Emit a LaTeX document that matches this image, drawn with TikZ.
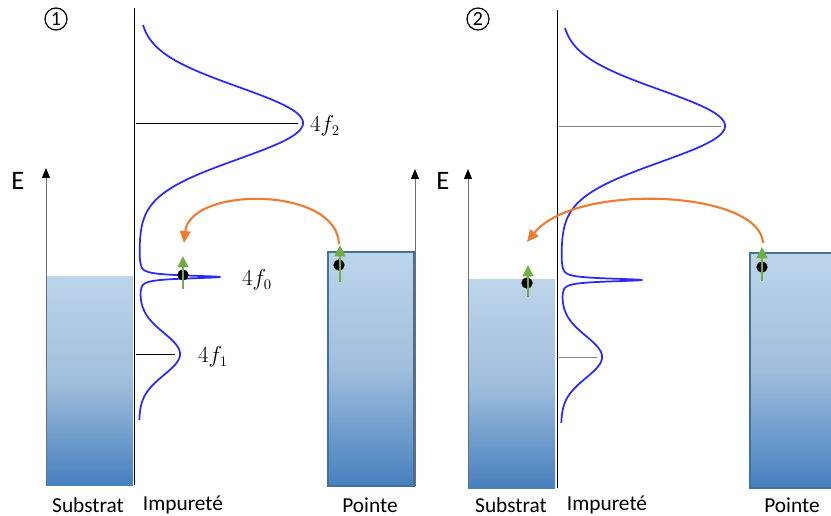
\documentclass[tikz,border=0pt]{standalone}
\usepackage{fontspec}
\setmainfont{Carlito}
\usetikzlibrary{arrows.meta}
\definecolor{dosblue}{RGB}{40,40,255}
\definecolor{orng}{RGB}{237,125,49}
\definecolor{grn}{RGB}{112,173,71}
\definecolor{bandtop}{RGB}{189,213,234}
\definecolor{bandmid}{RGB}{160,190,221}
\definecolor{bandbot}{RGB}{70,128,190}
\definecolor{tipborder}{RGB}{65,113,156}
\definecolor{axgrey}{RGB}{110,110,110}
\newcommand\myDOS{%
  \draw[dos] plot[domain=25:266.792, samples=160, smooth]
      ({139+164*exp(-0.5*((\x-123)/36)^2)+81*(1.8/(\x-277))^2/(1+(1.8/(\x-277))^2)}, \x)
    -- plot[domain=-80:80, samples=161, variable=\t]
      ({139+81*cos(\t)^2}, {277+1.8*tan(\t)})
    -- plot[domain=287.208:420, samples=100, smooth]
      ({139+41*exp(-0.5*((\x-354)/21)^2)+81*(1.8/(\x-277))^2/(1+(1.8/(\x-277))^2)}, \x);}
\begin{document}
\begin{tikzpicture}[x=0.75pt,y=-0.75pt,
  band/.style={top color=bandtop, bottom color=bandbot, middle color=bandmid, draw=none},
  tipband/.style={top color=bandtop, bottom color=bandbot, middle color=bandmid, draw=tipborder, line width=1.1pt},
  eaxis/.style={draw=axgrey, line width=0.7pt, -{Triangle[length=7.5pt,width=6pt,black]}},
  impaxis/.style={draw=black, line width=0.6pt},
  dos/.style={draw=dosblue, line width=1.3pt, line join=round},
  level/.style={line width=0.6pt},
  elec/.style={circle, fill=black, inner sep=0pt, minimum size=8.5pt},
  spin/.style={draw=grn, line width=1.8pt, -{Triangle[length=8.5pt,width=8pt]}},
  hop/.style={draw=orng, line width=1.6pt, -{Triangle[length=9pt,width=8pt]}},
  lbl/.style={font=\fontsize{16}{19}\selectfont, inner sep=0pt},
  elbl/.style={font=\fontsize{20}{24}\selectfont, inner sep=0pt},
  num/.style={circle, draw=black, line width=0.9pt, inner sep=0pt, minimum size=16.5pt, font=\fontsize{15}{17}\selectfont},
  flbl/.style={font=\fontsize{16}{19}\selectfont, inner sep=0pt}]
\useasboundingbox (0,0) rectangle (831,516);
\clip (0,0) rectangle (831,516);

% ---------------- panel 1 ----------------
\node[num] (n1) at (56,19) {1};
\path[band] (46,277) rectangle (133,485);
\coordinate (ea1b) at (46,485); \coordinate (ea1t) at (46,168);
\draw[eaxis] (ea1b) -- (ea1t);
\node[elbl] (E1) at (18,181) {E};
\coordinate (ia1b) at (134,485); \coordinate (ia1t) at (134,8);
\draw[impaxis] (ia1b) -- (ia1t);
\coordinate (l2a) at (136,123); \coordinate (l2b) at (298,123);
\draw[level, black] (l2a) -- (l2b);
\coordinate (l1a) at (136,354); \coordinate (l1b) at (175,354);
\draw[level, black] (l1a) -- (l1b);
\myDOS
\node[flbl] (f2) at (325,126) {$4f_2$};
\node[flbl] (f0) at (257,280) {$4f_0$};
\node[flbl] (f1) at (213,357) {$4f_1$};
\path[tipband] (328,252) rectangle (414,486);
\coordinate (pa1b) at (415,486); \coordinate (pa1t) at (415,169);
\draw[eaxis] (pa1b) -- (pa1t);
\node[elec] (e1i) at (183,275) {};
\coordinate (s1a) at (183,289); \coordinate (s1b) at (183,256);
\draw[spin] (s1a) -- (s1b);
\node[elec] (e1p) at (339,265) {};
\coordinate (s2a) at (340,282); \coordinate (s2b) at (340,245);
\draw[spin] (s2a) -- (s2b);
\coordinate (h1s) at (339,244); \coordinate (h1e) at (184,243);
\draw[hop] (h1s) .. controls (337,186) and (190,186) .. (h1e);
\node[lbl] (sub1) at (88,505) {Substrat};
\node[lbl] (imp1) at (183,505) {Impureté};
\node[lbl] (pt1) at (370,505) {Pointe};

% ---------------- panel 2 ----------------
\node[num] (n2) at (478,19) {2};
\begin{scope}[shift={(422,3)}]
  \path[band] (46,277) rectangle (133,485);
  \coordinate (ea2b) at (46,485); \coordinate (ea2t) at (46,166);
  \draw[eaxis] (ea2b) -- (ea2t);
  \coordinate (ia2b) at (135,485); \coordinate (ia2t) at (135,7);
  \draw[impaxis] (ia2b) -- (ia2t);
  \coordinate (m2a) at (137,123); \coordinate (m2b) at (299,123);
  \draw[level, gray] (m2a) -- (m2b);
  \coordinate (m1a) at (137,354); \coordinate (m1b) at (175,354);
  \draw[level, gray] (m1a) -- (m1b);
  \myDOS
\end{scope}
\node[elbl] (E2) at (443,181) {E};
\path[tipband] (750,253) rectangle (836,488);
\coordinate (pa2b) at (837,488); \coordinate (pa2t) at (837,169);
\draw[eaxis] (pa2b) -- (pa2t);
\node[elec] (e2s) at (527,283) {};
\coordinate (s3a) at (528,297); \coordinate (s3b) at (528,265);
\draw[spin] (s3a) -- (s3b);
\node[elec] (e2p) at (762,267) {};
\coordinate (s4a) at (762,281); \coordinate (s4b) at (762,247);
\draw[spin] (s4a) -- (s4b);
\coordinate (h2s) at (763,243); \coordinate (h2e) at (527,242);
\draw[hop] (h2s) .. controls (760,190) and (575,182) .. (h2e);
\node[lbl] (sub2) at (511,505) {Substrat};
\node[lbl] (imp2) at (607,505) {Impureté};
\node[lbl] (pt2) at (792,505) {Pointe};
\end{tikzpicture}
\end{document}
